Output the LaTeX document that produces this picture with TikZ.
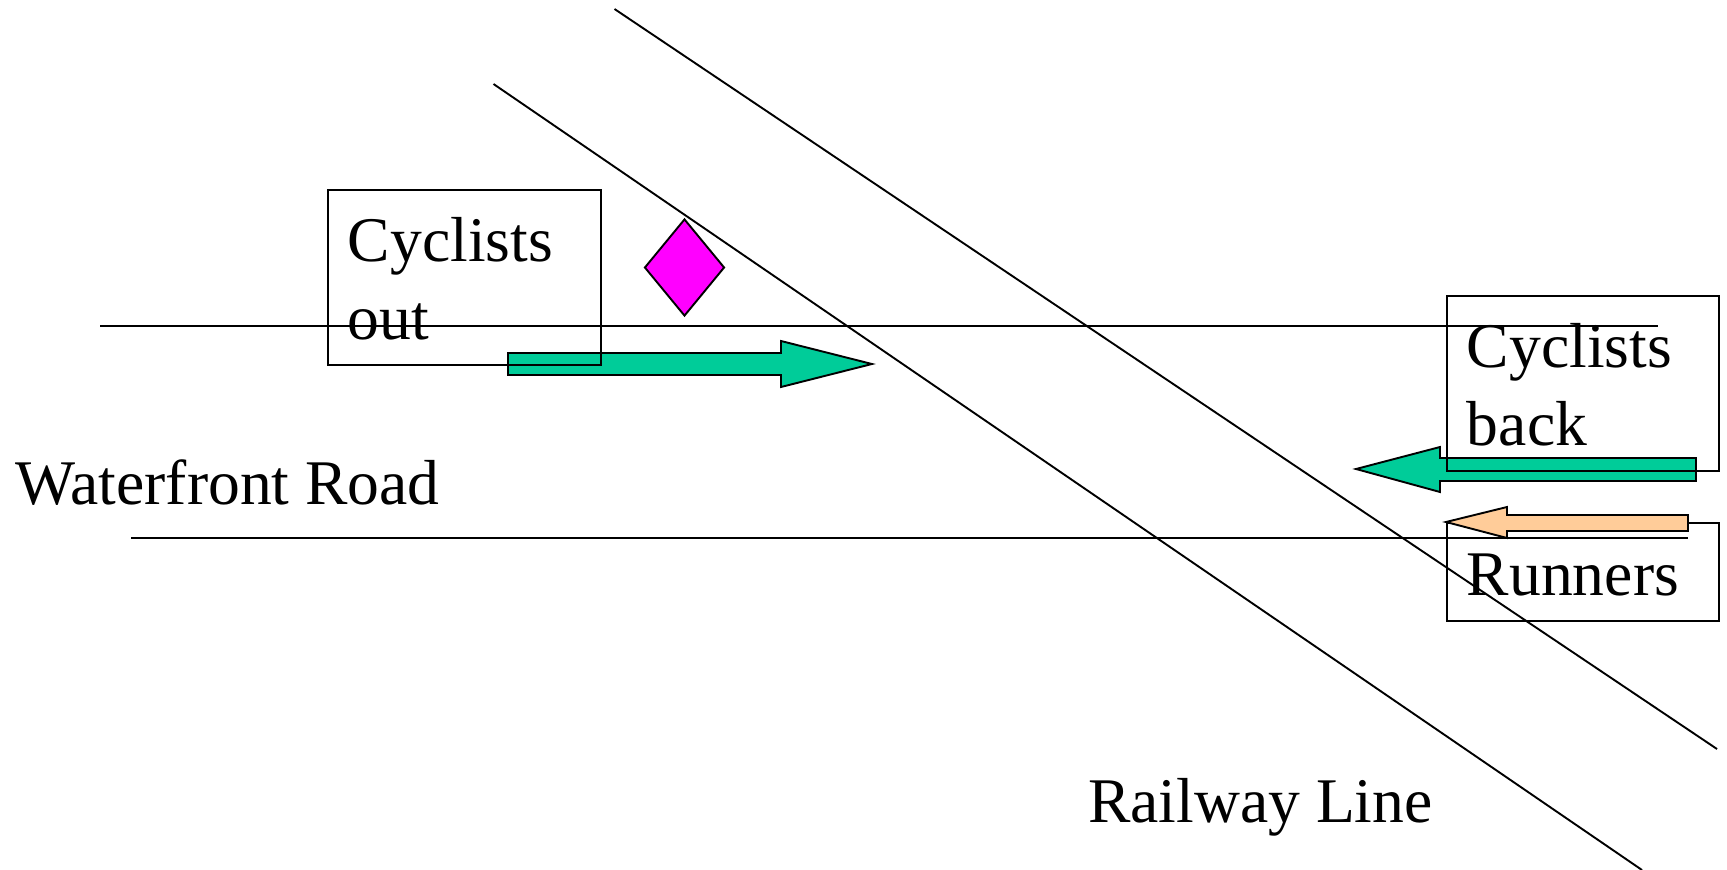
\documentclass[tikz,border=0pt]{standalone}
\usepackage{fontspec}
\setmainfont{Liberation Serif}
\usetikzlibrary{shapes.geometric}
\definecolor{arrowgreen}{HTML}{00CC99}
\definecolor{arrowpeach}{HTML}{FFCC99}
\definecolor{signmagenta}{HTML}{FF00FF}
\tikzset{
  x=1pt,y=-1pt,
  ink/.style={draw=black,line width=1.9pt,line join=miter},
  labelbox/.style={ink,rectangle,anchor=north west,inner xsep=20pt,inner ysep=0pt,align=left,
    font=\fontsize{63.6}{78}\selectfont},
  plain/.style={anchor=base west,inner sep=0pt,font=\fontsize{63.6}{78}\selectfont},
  flow/.style={ink},
}
\newcommand{\firstline}{\rule{0pt}{47pt}}
\begin{document}
\begin{tikzpicture}
\useasboundingbox (0,0) rectangle (1727,870);
% arrows under the boxes
\draw[flow,fill=arrowgreen] (508,353) -- (781,353) -- (781,341) -- (872,364) -- (781,387) -- (781,375) -- (508,375) -- cycle;
\draw[flow,fill=arrowgreen] (1696,458) -- (1440,458) -- (1440,447) -- (1356,469) -- (1440,492) -- (1440,481) -- (1696,481) -- cycle;
% boxes
\node[labelbox,minimum width=273pt,minimum height=175pt,text width=233pt] (out) at (327,189) {\firstline Cyclists\\out};
\node[labelbox,minimum width=272pt,minimum height=175pt,text width=232pt] (back) at (1446,295) {\firstline Cyclists\\back};
\node[labelbox,minimum width=272pt,minimum height=98pt,text width=232pt] (run) at (1446,522) {\firstline Runners};
\draw[flow,fill=arrowpeach] (1688,515) -- (1507,515) -- (1507,507) -- (1446,522) -- (1507,538) -- (1507,531) -- (1688,531) -- cycle;
% sign
\node[ink,diamond,fill=signmagenta,minimum width=80pt,minimum height=97pt,inner sep=0pt] (sign) at (684.5,267.5) {};
% road and railway edges
\coordinate (roadAw) at (100,326);
\coordinate (roadAe) at (1658,326);
\coordinate (roadBw) at (131,538);
\coordinate (roadBe) at (1688,538);
\coordinate (railAn) at (614.5,9);
\coordinate (railAs) at (1717,749);
\coordinate (railBn) at (493.5,84);
\coordinate (railBs) at (1642,870);
\draw[ink] (roadAw) -- (roadAe);
\draw[ink] (roadBw) -- (roadBe);
\draw[ink] (railAn) -- (railAs);
\draw[ink] (railBn) -- (railBs);
% labels
\node[plain] (road) at (15.5,504.5) {Waterfront Road};
\node[plain] (rail) at (1088,822) {Railway Line};
\end{tikzpicture}
\end{document}
